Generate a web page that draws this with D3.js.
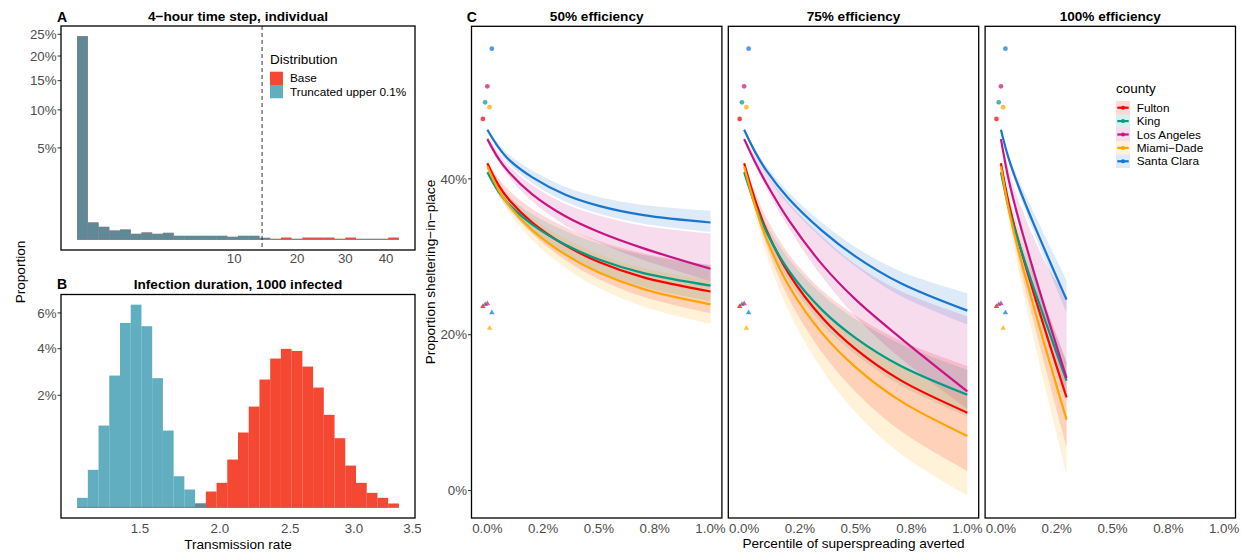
<!DOCTYPE html>
<html><head><meta charset="utf-8">
<script src="https://cdn.jsdelivr.net/npm/d3@7"></script>
<style>
body{margin:0;background:#fff}
text{font-family:"Liberation Sans",Arial,Helvetica,sans-serif}
</style></head>
<body><svg id="chart" width="1242" height="552"></svg>
<script>
// ---------------- DATA ----------------
const distNames = ["Base", "Truncated upper 0.1%"];
const distColors = ["#F21A00", "#3B9AB2"];
// Panel A: 4-hour time step (30 bins in sqrt space)
const stepRange = [0, 42];
const stepBase = [0.2455, 0.00178, 0.001, 0.000513, 0.000629, 0.000213, 0.000319, 0.000213, 0.000291, 0.0000949, 0.0000949, 0.0000949, 0.0000949, 0.0000949, 0.0000534, 0.0000949, 0.0000949, 0.0000237, 0.000006, 0.0000314, 0.000006, 0.0000314, 0.0000314, 0.0000314, 0.000006, 0.0000314, 0.000006, 0.000006, 0.000006, 0.0000314];
const stepTrunc = [0.2455, 0.00178, 0.001, 0.000513, 0.000629, 0.000213, 0.000319, 0.000213, 0.000291, 0.0000949, 0.0000949, 0.0000949, 0.0000949, 0.0000949, 0.0000534, 0.0000949, 0.0000949, 0.0000237, 0.000006, 0.000006, 0.000006, 0.000006, 0.000006, 0.000006, 0.000006, 0.000006, 0.000006, 0.000006, 0.000006, 0.000006];
const stepCutoff = 14;
const stepXTicks = [10, 20, 30, 40];
const stepYTicks = [0.05, 0.10, 0.15, 0.20, 0.25];
// Panel B: transmission rate
const rateRange = [1.185, 3.334];
const rateBase = [0.0000016, 0.0000016, 0.0000016, 0.0000016, 0.0000016, 0.0000016, 0.0000016, 0.0000016, 0.0000016, 0.0000016, 0.0000016, 0.00003, 0.00042, 0.000986, 0.00368, 0.00896, 0.0162, 0.0260, 0.0352, 0.0399, 0.0389, 0.03152, 0.02285, 0.01366, 0.00766, 0.00282, 0.000986, 0.000355, 0.000158, 0.00003];
const rateTrunc = [0.000158, 0.00228, 0.01069, 0.02764, 0.0540, 0.0652, 0.0521, 0.02656, 0.00943, 0.00158, 0.00053, 0.00003, 0.0000016, 0.0000016, 0.0000016, 0.0000016, 0.0000016, 0.0000016, 0.0000016, 0.0000016, 0.0000016, 0.0000016, 0.0000016, 0.0000016, 0.0000016, 0.0000016, 0.0000016, 0.0000016, 0.0000016, 0];
const rateXTicks = [1.5, 2.0, 2.5, 3.0, 3.5];
const rateYTicks = [0.02, 0.04, 0.06];

// Panel C
const counties = ["Fulton", "King", "Los Angeles", "Miami\u2212Dade", "Santa Clara"];
const countyColors = ["#FF0000", "#009C85", "#C71585", "#FFA500", "#1874CD"];
const effLabels = ["50% efficiency", "75% efficiency", "100% efficiency"];
const avertedGrid = [0, 0.05, 0.1, 0.2, 0.35, 0.5, 0.7, 1.0];
const avertedGrid100 = [0, 0.03, 0.06, 0.1, 0.15, 0.22, 0.294];
const fit50 = [
  [42.0, 39.2, 37.23, 34.43, 31.47, 29.33, 27.36, 25.55],
  [40.85, 38.38, 36.63, 34.16, 31.54, 29.65, 27.90, 26.3],
  [45.1, 42.6, 40.75, 38.05, 35.2, 33.18, 31.08, 28.46],
  [41.6, 38.59, 36.47, 33.46, 30.27, 27.97, 25.85, 23.9],
  [46.3, 44.04, 42.37, 40.23, 37.97, 36.54, 35.35, 34.4]];
const lo50 = [
  [41.72, 38.5, 36.22, 33.0, 29.57, 27.12, 24.84, 22.75],
  [40.65, 37.88, 35.91, 33.14, 30.18, 28.07, 26.1, 24.3],
  [44.9, 42.2, 40.15, 37.15, 34.0, 31.83, 29.58, 26.86],
  [41.35, 37.96, 35.57, 32.18, 28.57, 25.99, 23.6, 21.4],
  [46.1, 43.64, 41.82, 39.48, 37.07, 35.54, 34.25, 33.2]];
const hi50 = [
  [42.34, 40.05, 38.45, 36.16, 33.78, 32.02, 30.42, 28.95],
  [41.11, 39.03, 37.57, 35.49, 33.31, 31.7, 30.24, 28.9],
  [45.4, 43.35, 41.55, 39.2, 36.8, 35.3, 34.0, 33.0],
  [41.9, 39.34, 37.55, 34.99, 32.31, 30.34, 28.55, 26.9],
  [46.6, 44.54, 43.02, 41.08, 38.97, 37.69, 36.65, 35.9]];
const fit75 = [
  [42.0, 37.23, 33.41, 27.84, 22.18, 18.15, 14.17, 10.0],
  [40.85, 36.6, 33.18, 28.22, 23.16, 19.57, 16.02, 12.3],
  [45.1, 42.1, 39.4, 34.7, 29.0, 24.5, 19.6, 12.73],
  [41.6, 36.45, 32.31, 26.29, 20.17, 15.81, 11.51, 7.0],
  [46.3, 43.4, 41.05, 37.45, 33.33, 30.03, 26.63, 23.09]];
const lo75 = [
  [41.72, 36.03, 31.41, 24.64, 17.68, 12.65, 7.67, 2.5],
  [40.65, 36.0, 32.28, 26.92, 21.36, 17.47, 13.52, 9.5],
  [44.9, 41.7, 38.8, 33.7, 27.4, 22.3, 17.0, 10.5],
  [41.35, 35.25, 30.31, 22.99, 15.47, 10.01, 4.71, -0.65],
  [46.1, 43.0, 40.5, 36.65, 32.33, 28.73, 25.0, 21.3]];
const hi75 = [
  [42.34, 38.23, 35.01, 30.34, 25.68, 22.45, 19.27, 16.0],
  [41.11, 37.3, 34.18, 29.72, 25.16, 21.97, 18.82, 15.5],
  [45.4, 42.9, 40.6, 36.9, 32.6, 29.0, 25.6, 22.35],
  [41.9, 37.35, 33.71, 28.39, 23.07, 19.41, 15.81, 12.0],
  [46.6, 43.85, 41.65, 38.25, 34.33, 31.23, 28.13, 25.31]];
const fit100 = [
  [42.0, 37.5, 33.96, 29.84, 25.04, 18.6, 11.94],
  [40.85, 36.85, 33.7, 30.03, 25.76, 20.03, 14.1],
  [45.1, 40.51, 36.9, 32.7, 27.81, 21.24, 14.45],
  [41.6, 36.74, 32.91, 28.45, 23.26, 16.3, 9.1],
  [46.3, 43.04, 40.47, 37.48, 34.0, 29.33, 24.5]];
const lo100 = [
  [41.49, 36.35, 32.04, 26.96, 21.2, 13.48, 5.54],
  [40.64, 36.38, 32.92, 28.86, 24.2, 17.95, 11.5],
  [44.94, 40.15, 36.3, 31.8, 26.61, 19.64, 12.45],
  [41.04, 35.47, 30.79, 25.28, 19.03, 10.66, 2.05],
  [46.16, 42.73, 39.96, 36.71, 32.98, 27.97, 22.8]];
const hi100 = [
  [42.37, 38.33, 35.34, 31.91, 27.8, 22.28, 16.54],
  [41.04, 37.28, 34.42, 31.11, 27.2, 21.95, 16.5],
  [45.4, 41.71, 38.75, 35.7, 32.21, 28.14, 25.0],
  [41.91, 37.44, 34.08, 30.21, 25.6, 19.42, 13.0],
  [46.5, 43.49, 41.22, 38.58, 35.5, 31.33, 27.0]];
const observedDots = [47.69, 49.83, 51.88, 49.19, 56.71];
const observedTriangles = [23.63, 23.89, 23.97, 20.85, 22.82];
const dodgeX = [-0.02, -0.01, 0, 0.01, 0.02];
const cXTicks = [0, 0.25, 0.5, 0.75, 1.0];
const cXLabels = ["0.0%", "0.2%", "0.5%", "0.8%", "1.0%"];
const cYTicks = [0, 20, 40];

// ---------------- DRAW ----------------
const svg = d3.select("#chart");
const AX = "#4D4D4D", FS = 13.3;
svg.append("rect").attr("width",1242).attr("height",552).attr("fill","#fff");

svg.append("defs").append("clipPath").attr("id","leftclip")
  .append("rect").attr("x",0).attr("y",0).attr("width",421).attr("height",552);
const left = svg.append("g").attr("clip-path","url(#leftclip)");

function histPanel(g, opts){
  const {x0,x1,y0,y1,range,series,xTicks,xFmt,yTicks,labelY,title,tag,tagY} = opts;
  const n = series[0].length;
  const s0 = Math.sqrt(range[0]), s1 = Math.sqrt(range[1]);
  const w = (s1 - s0)/(n-1);
  const eLo = s0 - w/2, eHi = s1 + w/2;
  const pad = 0.05*(eHi-eLo);
  const x = d3.scaleLinear().domain([eLo-pad, eHi+pad]).range([x0,x1]);
  const maxS = Math.sqrt(d3.max(series.flat()));
  const y = d3.scaleLinear().domain([-0.05*maxS, 1.05*maxS]).range([y1,y0]);
  series.forEach((vals,si)=>{
    g.append("g").selectAll("rect").data(vals).join("rect")
      .attr("x",(d,i)=>x(eLo+i*w))
      .attr("width",(d,i)=>x(eLo+(i+1)*w)-x(eLo+i*w))
      .attr("y",d=>y(Math.sqrt(d)))
      .attr("height",d=>y(0)-y(Math.sqrt(d)))
      .attr("fill",distColors[si]).attr("fill-opacity",0.8);
  });
  yTicks.forEach(t=>{
    const yy = y(Math.sqrt(t));
    g.append("line").attr("x1",x0-3.5).attr("x2",x0).attr("y1",yy).attr("y2",yy).attr("stroke","#333").attr("stroke-width",1);
    g.append("text").attr("x",x0-4.5).attr("y",yy).attr("dy","0.35em").attr("text-anchor","end")
      .attr("font-size",FS).attr("fill",AX).text(d3.format(".0%")(t));
  });
  xTicks.forEach(t=>{
    g.append("text").attr("x",x(Math.sqrt(t))).attr("y",labelY).attr("text-anchor","middle")
      .attr("font-size",FS).attr("fill",AX).text(xFmt(t));
  });
  g.append("text").attr("x",(x0+x1)/2).attr("y",y0-5.5).attr("text-anchor","middle")
    .attr("font-size",13.6).attr("font-weight","bold").text(title);
  g.append("text").attr("x",57).attr("y",tagY).attr("font-size",14).attr("font-weight","bold").text(tag);
  return {x,y};
}

const A = histPanel(left,{x0:61,x1:415,y0:26,y1:250,range:stepRange,series:[stepBase,stepTrunc],
  xTicks:stepXTicks,xFmt:d=>String(d),yTicks:stepYTicks,labelY:263,
  title:"4\u2212hour time step, individual",tag:"A",tagY:22});
left.append("line").attr("x1",A.x(Math.sqrt(stepCutoff))).attr("x2",A.x(Math.sqrt(stepCutoff)))
  .attr("y1",26).attr("y2",250).attr("stroke","#222").attr("stroke-width",0.9).attr("stroke-dasharray","4,3");
left.append("rect").attr("x",61).attr("y",26).attr("width",354).attr("height",224)
  .attr("fill","none").attr("stroke","#000").attr("stroke-width",1.3);

left.append("text").attr("x",270).attr("y",64).attr("font-size",13.5).text("Distribution");
distNames.forEach((nm,i)=>{
  left.append("rect").attr("x",270).attr("y",71.7+i*13.3).attr("width",13).attr("height",13.3)
    .attr("fill",distColors[i]).attr("fill-opacity",0.8);
  left.append("text").attr("x",290).attr("y",78.3+i*13.3).attr("dy","0.35em").attr("font-size",11.8).text(nm);
});

const B = histPanel(left,{x0:61,x1:415,y0:294.5,y1:518,range:rateRange,series:[rateBase,rateTrunc],
  xTicks:rateXTicks,xFmt:d3.format(".1f"),yTicks:rateYTicks,labelY:532.7,
  title:"Infection duration, 1000 infected",tag:"B",tagY:288.5});
left.append("rect").attr("x",61).attr("y",294.5).attr("width",354).attr("height",223.5)
  .attr("fill","none").attr("stroke","#000").attr("stroke-width",1.3);

left.append("text").attr("transform","translate(25,272) rotate(-90)").attr("text-anchor","middle")
  .attr("font-size",13.6).text("Proportion");
left.append("text").attr("x",238).attr("y",549).attr("text-anchor","middle").attr("font-size",13.6).text("Transmission rate");

// ---------------- Panel C ----------------
const facetLefts = [471.5, 728.3, 985.1], FW = 250.4, FT = 26.3, FB = 518;
const yC = d3.scaleLinear().domain([-3.52, 59.58]).range([FB, FT]);
const fits = [fit50, fit75, fit100], los = [lo50, lo75, lo100], his = [hi50, hi75, hi100];
const grids = [avertedGrid, avertedGrid, avertedGrid100];
const smooth = d3.curveCatmullRom.alpha(0.5);

facetLefts.forEach((fl,fi)=>{
  const g = svg.append("g");
  const x = d3.scaleLinear().domain([-0.071, 1.051]).range([fl, fl+FW]);
  const grid = grids[fi];
  const area = d3.area().curve(smooth).x((d,i)=>x(grid[i])).y0(d=>yC(d[0])).y1(d=>yC(d[1]));
  const line = d3.line().curve(smooth).x((d,i)=>x(grid[i])).y(d=>yC(d));
  counties.forEach((c,ci)=>{
    const band = los[fi][ci].map((v,i)=>[v, his[fi][ci][i]]);
    g.append("path").attr("d",area(band)).attr("fill",countyColors[ci]).attr("fill-opacity",0.15);
  });
  counties.forEach((c,ci)=>{
    g.append("path").attr("d",line(fits[fi][ci])).attr("fill","none")
      .attr("stroke",countyColors[ci]).attr("stroke-width",2.2);
  });
  counties.forEach((c,ci)=>{
    g.append("circle").attr("cx",x(dodgeX[ci])).attr("cy",yC(observedDots[ci])).attr("r",2.4)
      .attr("fill",countyColors[ci]).attr("fill-opacity",0.72);
    g.append("path").attr("d",d3.symbol(d3.symbolTriangle,13)())
      .attr("transform",`translate(${x(dodgeX[ci])},${yC(observedTriangles[ci])})`)
      .attr("fill",countyColors[ci]).attr("fill-opacity",0.72);
  });
  g.append("rect").attr("x",fl).attr("y",FT).attr("width",FW).attr("height",FB-FT)
    .attr("fill","none").attr("stroke","#000").attr("stroke-width",1.3);
  cXTicks.forEach((t,i)=>{
    g.append("text").attr("x",x(t)).attr("y",533).attr("text-anchor","middle")
      .attr("font-size",FS).attr("fill",AX).text(cXLabels[i]);
  });
  g.append("text").attr("x",fl+FW/2).attr("y",21).attr("text-anchor","middle")
    .attr("font-size",13.6).attr("font-weight","bold").text(effLabels[fi]);
  if(fi===0){
    cYTicks.forEach(t=>{
      g.append("line").attr("x1",fl-3.5).attr("x2",fl).attr("y1",yC(t)).attr("y2",yC(t)).attr("stroke","#333");
      g.append("text").attr("x",fl-4.5).attr("y",yC(t)).attr("dy","0.35em").attr("text-anchor","end")
        .attr("font-size",FS).attr("fill",AX).text(t+"%");
    });
  }
});
svg.append("text").attr("x",466.7).attr("y",22).attr("font-size",14).attr("font-weight","bold").text("C");
svg.append("text").attr("transform","translate(435,272) rotate(-90)").attr("text-anchor","middle")
  .attr("font-size",13.6).text("Proportion sheltering\u2212in\u2212place");
svg.append("text").attr("x",853.5).attr("y",548).attr("text-anchor","middle").attr("font-size",13.6)
  .text("Percentile of superspreading averted");

const lg = svg.append("g");
lg.append("text").attr("x",1116).attr("y",93).attr("font-size",13.5).text("county");
counties.forEach((c,i)=>{
  const ky = 101 + i*13.4;
  lg.append("rect").attr("x",1116).attr("y",ky).attr("width",14).attr("height",13.4)
    .attr("fill",countyColors[i]).attr("fill-opacity",0.15);
  lg.append("line").attr("x1",1117.3).attr("x2",1128.7).attr("y1",ky+6.7).attr("y2",ky+6.7)
    .attr("stroke",countyColors[i]).attr("stroke-width",2.2);
  lg.append("circle").attr("cx",1123).attr("cy",ky+6.7).attr("r",2).attr("fill",countyColors[i]);
  lg.append("text").attr("x",1136.7).attr("y",ky+6.7).attr("dy","0.35em").attr("font-size",11.8).text(c);
});
</script></body></html>
